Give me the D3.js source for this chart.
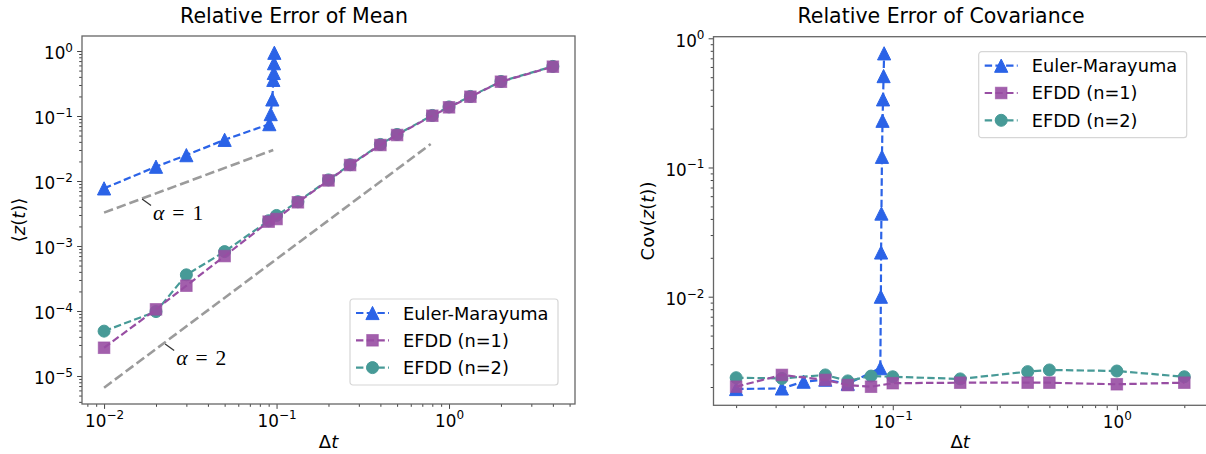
<!DOCTYPE html>
<html><head><meta charset="utf-8">
<script src="https://cdn.jsdelivr.net/npm/d3@7/dist/d3.min.js"></script>
<style>body{margin:0;background:#fff} svg{display:block} text{font-family:"DejaVu Sans",sans-serif;fill:#000}</style>
</head><body><svg id="c" width="1206" height="454"></svg>
<script>
// ---------------- data ----------------
const seriesNames = ["Euler-Marayuma", "EFDD (n=1)", "EFDD (n=2)"];
const meanEulerDt  = [0.01, 0.02, 0.03, 0.05, 0.0908, 0.0925, 0.0945, 0.0958, 0.0964, 0.0967, 0.0971];
const meanEulerErr = [0.0077, 0.0166, 0.025, 0.043, 0.075, 0.107, 0.18, 0.36, 0.46, 0.65, 0.94];
const meanEfddDt   = [0.01, 0.02, 0.03, 0.05, 0.09, 0.1, 0.133, 0.2, 0.267, 0.4, 0.5, 0.8, 1, 1.33, 2, 4];
const meanEfdd1Err = [2.72e-5, 1.06e-4, 2.45e-4, 7.0e-4, 2.37e-3, 2.6e-3, 4.7e-3, 0.0102, 0.0176, 0.0358, 0.051, 0.101, 0.136, 0.198, 0.337, 0.574];
const meanEfdd2Err = [4.9e-5, 9.8e-5, 3.6e-4, 8.2e-4, 2.45e-3, 2.95e-3, 4.8e-3, 0.0104, 0.0178, 0.0365, 0.052, 0.102, 0.138, 0.2, 0.34, 0.58];
const alpha1Dt = [0.01, 0.0957], alpha1Err = [0.00326, 0.030];
const alpha2Dt = [0.01, 0.783],  alpha2Err = [6.6e-6, 0.037];
const annotLabels = ["α = 1", "α = 2"];
const annotDt  = [0.0166, 0.0226];
const annotErr = [0.0053, 3.1e-5];
const covEulerDt  = [0.02, 0.032, 0.04, 0.05, 0.063, 0.088, 0.0885, 0.0887, 0.089, 0.0895, 0.09, 0.0905, 0.091, 0.0915];
const covEulerErr = [0.00193, 0.00195, 0.0022, 0.00228, 0.00212, 0.0028, 0.0100, 0.022, 0.044, 0.121, 0.23, 0.337, 0.51, 0.765];
const covEfddDt   = [0.02, 0.032, 0.05, 0.063, 0.08, 0.1, 0.2, 0.4, 0.5, 1, 2];
const covEfdd1Err = [0.00201, 0.00248, 0.00227, 0.00207, 0.00201, 0.00214, 0.00216, 0.00216, 0.00216, 0.0021, 0.00216];
const covEfdd2Err = [0.00236, 0.00233, 0.00248, 0.00223, 0.00243, 0.0024, 0.00231, 0.00263, 0.00271, 0.00266, 0.0024];
const meanXTickExp = [-2, -1, 0];
const meanYTickExp = [0, -1, -2, -3, -4, -5];
const covXTickExp  = [-1, 0];
const covYTickExp  = [0, -1, -2];

// ---------------- styles ----------------
const COL = {euler: "#2b63e7", e1: "#984ea3", e2: "#479a97", ref: "#9b9b9b", spine: "#666"};
const svg = d3.select("#c");
const zip = (a, b) => a.map((v, i) => [v, b[i]]);

function triPath(s) { const h = s / 2; return `M0,${-h}L${-h},${h}L${h},${h}Z`; }

function supLabel(sel, e) {
  sel.text(null);
  sel.append("tspan").text("10");
  sel.append("tspan").attr("dy", -7.5).attr("font-size", 12).text(e < 0 ? "\u2212" + (-e) : String(e));
}

function minorTicks(scale) {
  const [a, b] = scale.domain();
  const out = [];
  for (let e = Math.floor(Math.log10(a)); e <= Math.ceil(Math.log10(b)); e++)
    for (let m = 2; m <= 9; m++) { const v = m * Math.pow(10, e); if (v >= a && v <= b) out.push(v); }
  return out;
}

function panel(cfg) {
  const x = d3.scaleLog().domain(cfg.xdom.map(v => Math.pow(10, v))).range([cfg.x0, cfg.x1]);
  const y = d3.scaleLog().domain(cfg.ydom.map(v => Math.pow(10, v))).range([cfg.y1, cfg.y0]);
  const g = svg.append("g");

  // axes
  const xa = g.append("g").attr("transform", `translate(0,${cfg.y1})`);
  xa.append("g").call(d3.axisBottom(x).tickValues(minorTicks(x)).tickSize(2.8).tickFormat(""));
  xa.append("g").call(d3.axisBottom(x).tickValues(cfg.xt.map(e => Math.pow(10, e))).tickSize(4.9).tickFormat(""))
    .selectAll(".tick").each(function (d) {
      d3.select(this).append("text").attr("y", 22.5).attr("dy", 0).attr("text-anchor", "middle")
        .attr("font-size", 16.8).attr("fill", "#000").call(s => supLabel(s, Math.round(Math.log10(d))));
    });
  const ya = g.append("g").attr("transform", `translate(${cfg.x0},0)`);
  ya.append("g").call(d3.axisLeft(y).tickValues(minorTicks(y)).tickSize(2.8).tickFormat(""));
  ya.append("g").call(d3.axisLeft(y).tickValues(cfg.yt.map(e => Math.pow(10, e))).tickSize(4.9).tickFormat(""))
    .selectAll(".tick").each(function (d) {
      d3.select(this).append("text").attr("x", -9).attr("y", 7.8).attr("text-anchor", "end")
        .attr("font-size", 16.8).attr("fill", "#000").call(s => supLabel(s, Math.round(Math.log10(d))));
    });
  g.selectAll(".domain").remove();
  g.selectAll(".tick line").attr("stroke", "#444").attr("stroke-width", 1);

  // frame
  g.append("rect").attr("x", cfg.x0).attr("y", cfg.y0).attr("width", cfg.x1 - cfg.x0).attr("height", cfg.y1 - cfg.y0)
    .attr("fill", "none").attr("stroke", COL.spine).attr("stroke-width", 1.3);

  const line = d3.line().x(d => x(d[0])).y(d => y(d[1]));

  // reference lines
  (cfg.refs || []).forEach(r => {
    g.append("path").attr("d", line(r)).attr("fill", "none").attr("stroke", COL.ref)
      .attr("stroke-width", 2.6).attr("stroke-dasharray", "9.5,4");
  });
  (cfg.annots || []).forEach(a => {
    const px = x(a.dt), py = y(a.err);
    g.append("line").attr("x1", px).attr("y1", py).attr("x2", px + 9).attr("y2", py + 6.5)
      .attr("stroke", "#333").attr("stroke-width", 1.2);
    const t = g.append("text").attr("x", px + 11).attr("y", py + 21).attr("font-size", 21.5)
      .style("font-family", "'Liberation Serif','DejaVu Serif',serif");
    const parts = a.label.split(" ");
    t.append("tspan").attr("font-style", "italic").text(parts[0]);
    t.append("tspan").attr("dx", 8).text(parts[1]);
    t.append("tspan").attr("dx", 8).text(parts[2]);
  });

  // series
  cfg.series.forEach(s => {
    const pts = zip(s.dt, s.err);
    g.append("path").attr("d", line(pts)).attr("fill", "none").attr("stroke", s.color)
      .attr("stroke-width", 2.2).attr("stroke-dasharray", "7.4,3.3");
    const m = g.append("g").selectAll("g").data(pts).join("g")
      .attr("transform", d => `translate(${x(d[0])},${y(d[1])})`);
    drawMarker(m, s.marker, s.color);
  });

  // legend
  const L = cfg.legend;
  const lg = g.append("g").attr("transform", `translate(${L.x},${L.y})`);
  lg.append("rect").attr("width", 208).attr("height", 86).attr("rx", 3)
    .attr("fill", "#fff").attr("fill-opacity", 0.85).attr("stroke", "#d6d6d6").attr("stroke-width", 1.2);
  L.items.forEach((s, i) => {
    const yy = 14 + i * 27.3;
    lg.append("line").attr("x1", 6).attr("x2", 39).attr("y1", yy).attr("y2", yy)
      .attr("stroke", s.color).attr("stroke-width", 2.2).attr("stroke-dasharray", "7.4,3.3");
    drawMarker(lg.append("g").attr("transform", `translate(22.5,${yy})`), s.marker, s.color);
    lg.append("text").attr("x", 53).attr("y", yy + 6.5).attr("font-size", 17.8).text(s.name);
  });

  // titles
  svg.append("text").attr("x", cfg.titleX).attr("y", 23).attr("text-anchor", "middle")
    .attr("font-size", 20.5).text(cfg.title);
  const xl = svg.append("text").attr("x", (cfg.x0 + cfg.x1) / 2).attr("y", 448).attr("text-anchor", "middle").attr("font-size", 18);
  xl.append("tspan").text("Δ"); xl.append("tspan").attr("font-style", "italic").text("t");
  const yl = svg.append("text").attr("transform", `translate(${cfg.ylabX},${(cfg.y0 + cfg.y1) / 2}) rotate(-90)`)
    .attr("text-anchor", "middle").attr("font-size", 18);
  cfg.ylab.forEach(p => yl.append("tspan").attr("font-style", p[1] ? "italic" : "normal").text(p[0]));
}

function drawMarker(sel, type, color) {
  if (type === "tri") sel.append("path").attr("d", triPath(13.2)).attr("fill", color).attr("stroke", color).attr("stroke-width", 1);
  else if (type === "sq") sel.append("rect").attr("x", -5.8).attr("y", -5.8).attr("width", 11.6).attr("height", 11.6)
    .attr("fill", color).attr("fill-opacity", 0.9).attr("stroke", color).attr("stroke-opacity", 0.6).attr("stroke-width", 1);
  else sel.append("circle").attr("r", 6).attr("fill", color).attr("stroke", color).attr("stroke-width", 1);
}

const legendItems = [
  {name: seriesNames[0], color: COL.euler, marker: "tri"},
  {name: seriesNames[1], color: COL.e1, marker: "sq"},
  {name: seriesNames[2], color: COL.e2, marker: "circ"}
];

panel({
  x0: 82, x1: 575, y0: 36, y1: 404,
  xdom: [-2.128, 0.7304], ydom: [-5.431, 0.231],
  xt: meanXTickExp, yt: meanYTickExp,
  title: "Relative Error of Mean", titleX: 294,
  ylabX: 25, ylab: [["⟨", 0], ["z", 1], ["(", 0], ["t", 1], [")⟩", 0]],
  refs: [zip(alpha1Dt, alpha1Err), zip(alpha2Dt, alpha2Err)],
  annots: annotLabels.map((l, i) => ({label: l, dt: annotDt[i], err: annotErr[i]})),
  series: [
    {dt: meanEulerDt, err: meanEulerErr, color: COL.euler, marker: "tri"},
    {dt: meanEfddDt, err: meanEfdd2Err, color: COL.e2, marker: "circ"},
    {dt: meanEfddDt, err: meanEfdd1Err, color: COL.e1, marker: "sq"}
  ],
  legend: {x: 350, y: 299, items: legendItems}
});

panel({
  x0: 713.5, x1: 1206.7, y0: 36.7, y1: 405.3,
  xdom: [-1.800, 0.401], ydom: [-2.8406, 0.0124],
  xt: covXTickExp, yt: covYTickExp,
  title: "Relative Error of Covariance", titleX: 941,
  ylabX: 654, ylab: [["Cov(", 0], ["z", 1], ["(", 0], ["t", 1], ["))", 0]],
  series: [
    {dt: covEulerDt, err: covEulerErr, color: COL.euler, marker: "tri"},
    {dt: covEfddDt, err: covEfdd2Err, color: COL.e2, marker: "circ"},
    {dt: covEfddDt, err: covEfdd1Err, color: COL.e1, marker: "sq"}
  ],
  legend: {x: 978.7, y: 51.7, items: legendItems}
});
</script></body></html>
